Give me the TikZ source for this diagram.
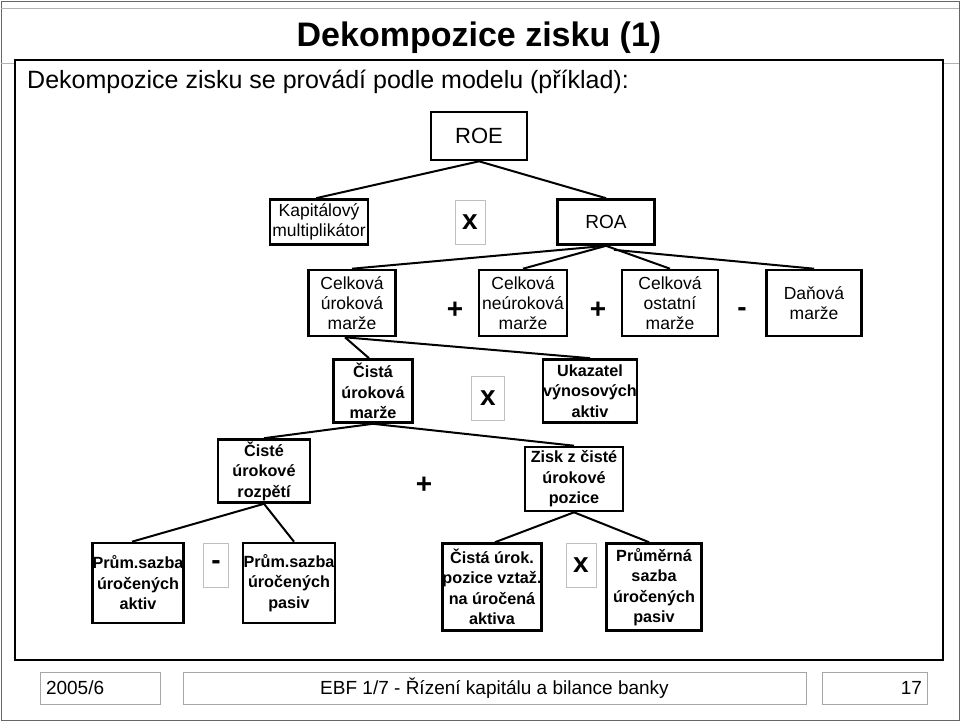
\documentclass[tikz,border=0pt]{standalone}
\usepackage{fontspec}
\setmainfont{Liberation Sans}
\begin{document}
\begin{tikzpicture}[
    x=1pt, y=-1pt,
    font=\fontsize{17.5}{20}\selectfont,
    every node/.style = {align=center, inner sep=0pt},
    box/.style = {draw, line width=2.6pt, minimum width=#1},
    box/.default = 90pt,
    bbox/.style = {box=#1, font=\fontsize{16.2}{20.5}\selectfont\bfseries},
    opbox/.style = {draw=black!25, line width=.6pt, minimum width=30pt, minimum height=44pt,
      font=\fontsize{28}{28}\selectfont\bfseries},
    op/.style = {font=\fontsize{28}{28}\selectfont\bfseries},
    foot/.style = {draw=black!35, line width=.6pt, minimum height=32pt, font=\fontsize{19}{19}\selectfont},
    link/.style = {line width=2pt}
    ]
    \useasboundingbox (0,0) rectangle (960,721);
    % page
    \draw[black!60, line width=1pt] (1,1) rectangle (959,720);
    \draw[black!30] (1,8) -- (959,8);
    \draw[black!30] (1,63) -- (959,63);
    \node (title) at (479,38) {\fontsize{34}{34}\selectfont\bfseries Dekompozice zisku (1)};
    \draw[line width=1.8pt, fill=white] (15,60) rectangle (943,660);
    \node[anchor=west] (intro) at (27,82) {\fontsize{25}{25}\selectfont Dekompozice zisku se provádí podle modelu (příklad):};

    % tree
    \node[box=96pt, minimum height=48pt, font=\fontsize{22}{22}\selectfont] (roe) at (479,136) {ROE};
    \node[box=98pt, minimum height=45pt] (kap) at (319,222) {Kapitálový\\multiplikátor};
    \node[opbox] (x1) at (470,222) {x};
    \node[box=97pt, minimum height=45pt, font=\fontsize{19}{19}\selectfont] (roa) at (606,222) {ROA};

    \node[box=87pt, minimum height=66pt] (cum) at (352,303) {Celková\\úroková\\marže};
    \node[op] (p1) at (455,310) {+};
    \node[box=88pt, minimum height=66pt] (cnm) at (523,303) {Celková\\neúroková\\marže};
    \node[op] (p2) at (598,310) {+};
    \node[box=96pt, minimum height=66pt] (com) at (670,303) {Celková\\ostatní\\marže};
    \node[op] (m1) at (742,312) {-};
    \node[box=95pt, minimum height=66pt] (dm) at (814,303) {Daňová\\marže};

    \node[bbox=79pt, minimum height=63pt] (cisum) at (373,391) {Čistá\\úroková\\marže};
    \node[opbox, minimum width=33pt] (x2) at (488,398) {x};
    \node[bbox=93pt, minimum height=63pt] (ukaz) at (590,391) {Ukazatel\\výnosových\\aktiv};

    \node[bbox=92pt, minimum height=63pt] (rozp) at (264,471) {Čisté\\úrokové\\rozpětí};
    \node[op] (p3) at (424,485) {+};
    \node[bbox=98pt, minimum height=64pt] (zisk) at (574,479) {Zisk z čisté\\úrokové\\pozice};

    \node[bbox=91pt, minimum height=80pt] (psa) at (138,583) {Prům.sazba\\úročených\\aktiv};
    \node[opbox, minimum width=25pt] (m2) at (216,565) {-};
    \node[bbox=92pt, minimum height=80pt] (psp) at (289,583) {Prům.sazba\\úročených\\pasiv};
    \node[bbox=90pt, minimum height=87pt] (cup) at (492,587) {Čistá úrok.\\pozice vztaž.\\na úročená\\aktiva};
    \node[opbox] (x3) at (581,565) {x};
    \node[bbox=95pt, minimum height=87pt] (pss) at (654,587) {Průměrná\\sazba\\úročených\\pasiv};

    % connectors
    \draw[link] (roe.south) -- ([xshift=-3pt]kap.north);
    \draw[link] (roe.south) -- (roa.north);
    \draw[link] (roa.south) -- (cum.north);
    \draw[link] (roa.south) -- (cnm.north);
    \draw[link] (roa.south) -- (com.north);
    \draw[link] ([xshift=8pt,yshift=-4pt]roa.south) -- (dm.north);
    \draw[link] ([xshift=-7pt]cum.south) -- ([xshift=-4pt]cisum.north);
    \draw[link] ([xshift=-7pt]cum.south) -- (ukaz.north);
    \draw[link] (cisum.south) -- (rozp.north);
    \draw[link] (cisum.south) -- (zisk.north);
    \draw[link] (rozp.south) -- ([xshift=-6pt]psa.north);
    \draw[link] (rozp.south) -- ([xshift=5pt]psp.north);
    \draw[link] (zisk.south) -- ([xshift=3pt]cup.north);
    \draw[link] (zisk.south) -- ([xshift=-5pt]pss.north);

    % footer
    \node[foot, minimum width=120pt, text width=108pt, align=left] (date) at (100,688) {2005/6};
    \node[foot, minimum width=623pt] (course) at (494.5,688) {EBF 1/7 - Řízení kapitálu a bilance banky};
    \node[foot, minimum width=105pt, text width=95pt, align=right] (page) at (874.5,688) {17};
\end{tikzpicture}
\end{document}
